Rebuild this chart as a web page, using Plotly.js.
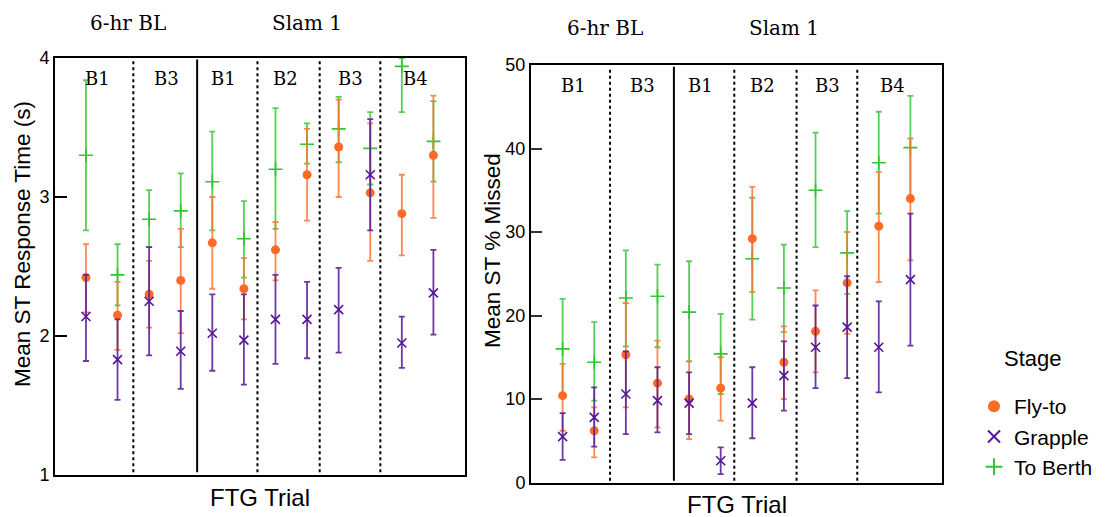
<!DOCTYPE html>
<html>
<head>
<meta charset="utf-8">
<script src="https://cdn.plot.ly/plotly-3.0.1.min.js"></script>
<style>
  html, body { margin: 0; padding: 0; background: #fff; }
  #chart { width: 1112px; height: 517px; }
</style>
</head>
<body>
<div id="chart"></div>
<script>
// Trial slots along the x axis (three stages share each slot)
const trialPos = [1, 2, 3, 4, 5, 6, 7, 8, 9, 10, 11, 12];

// Block labels and where they sit
const blockLabels = ["B1", "B3", "B1", "B2", "B3", "B4"];
const blockLabelPos = [1.35, 3.54, 5.37, 7.33, 9.37, 11.43];
const sessionLabels = ["6-hr BL", "Slam 1"];
const sessionLabelPos = [2.33, 8.0];
// Block separators: dotted inside a session, solid between sessions
const dividerPos = [2.5, 4.52, 6.43, 8.4, 10.32];
const dividerSolid = [false, true, false, false, false];

// Mean ST response time (s) with upper / lower interval bounds
const flyToRT    = [2.42, 2.15, 2.30, 2.40, 2.67, 2.34, 2.62, 3.16, 3.36, 3.03, 2.88, 3.30];
const flyToRTHi  = [2.66, 2.39, 2.54, 2.77, 3.00, 2.56, 2.82, 3.49, 3.70, 3.53, 3.16, 3.73];
const flyToRTLo  = [2.17, 1.90, 2.06, 2.02, 2.34, 2.12, 2.40, 2.83, 3.00, 2.54, 2.58, 2.85];
const grappleRT   = [2.14, 1.83, 2.25, 1.89, 2.02, 1.97, 2.12, 2.12, 2.19, 3.16, 1.95, 2.31];
const grappleRTHi = [2.44, 2.12, 2.64, 2.18, 2.30, 2.30, 2.44, 2.39, 2.49, 3.56, 2.14, 2.62];
const grappleRTLo = [1.82, 1.54, 1.86, 1.62, 1.75, 1.65, 1.80, 1.84, 1.88, 2.76, 1.77, 2.01];
const berthRT   = [3.30, 2.44, 2.84, 2.90, 3.11, 2.70, 3.20, 3.38, 3.49, 3.35, 3.94, 3.40];
const berthRTHi = [3.84, 2.66, 3.05, 3.17, 3.47, 2.97, 3.64, 3.53, 3.72, 3.61, 4.00, 3.69];
const berthRTLo = [2.76, 2.22, 2.64, 2.64, 2.76, 2.42, 2.77, 3.24, 3.25, 3.09, 3.61, 3.11];

// Mean ST % missed with upper / lower interval bounds
const flyToPM    = [10.4, 6.2, 15.3, 11.9, 10.0, 11.3, 29.2, 14.4, 18.1, 23.9, 30.7, 34.0];
const flyToPMHi  = [14.2, 9.0, 21.5, 17.0, 14.5, 15.0, 35.4, 18.7, 23.0, 30.0, 37.2, 41.2];
const flyToPMLo  = [6.2, 3.0, 9.0, 6.6, 5.2, 7.4, 22.8, 10.0, 13.2, 17.8, 24.0, 26.6];
const grapplePM   = [5.5, 7.8, 10.6, 9.8, 9.5, 2.6, 9.5, 12.8, 16.2, 18.6, 16.2, 24.3];
const grapplePMHi = [8.3, 11.4, 15.7, 13.8, 13.2, 4.2, 13.8, 16.9, 21.2, 24.7, 21.7, 32.2];
const grapplePMLo = [2.7, 4.3, 5.8, 6.0, 5.8, 1.0, 5.3, 8.6, 11.3, 12.5, 10.8, 16.4];
const berthPM   = [16.0, 14.4, 22.1, 22.3, 20.4, 15.4, 26.8, 23.3, 35.0, 27.5, 38.3, 40.1];
const berthPMHi = [22.0, 19.2, 27.8, 26.1, 26.5, 20.2, 34.1, 28.5, 41.9, 32.5, 44.4, 46.3];
const berthPMLo = [10.3, 9.8, 16.3, 16.2, 14.5, 10.6, 19.5, 18.0, 28.2, 22.6, 32.2, 34.0];

const stageNames = ["Fly-to", "Grapple", "To Berth"];

const COL = {
  fly:   { mark: "#ff6a26", bar: "rgba(255,115,50,0.85)" },
  grap:  { mark: "#55159a", bar: "rgba(88,28,150,0.88)" },
  berth: { mark: "#2fc62f", bar: "rgba(55,200,55,0.85)" }
};

const up = (hi, m) => hi.map((v, i) => +(v - m[i]).toFixed(3));
const dn = (lo, m) => m.map((v, i) => +(v - lo[i]).toFixed(3));

function stageTrace(name, y, hi, lo, col, marker, xa, ya, show, rank) {
  return {
    type: "scatter", mode: "markers", name: name,
    x: trialPos, y: y, xaxis: xa, yaxis: ya,
    showlegend: show, legendrank: rank,
    marker: Object.assign({ color: col.mark }, marker),
    error_y: {
      type: "data", symmetric: false,
      array: up(hi, y), arrayminus: dn(lo, y),
      color: col.bar, thickness: 1.8, width: 3
    },
    hoverinfo: "x+y+name"
  };
}

const mkFly   = { symbol: "circle", size: 9 };
const mkGrap  = { symbol: "x-thin", size: 9, line: { color: COL.grap.mark, width: 1.6 } };
const mkBerth = { symbol: "cross-thin", size: 10, line: { color: COL.berth.mark, width: 1.6 } };

const traces = [
  stageTrace(stageNames[2], berthRT, berthRTHi, berthRTLo, COL.berth, mkBerth, "x", "y", true, 3),
  stageTrace(stageNames[0], flyToRT, flyToRTHi, flyToRTLo, COL.fly, mkFly, "x", "y", true, 1),
  stageTrace(stageNames[1], grappleRT, grappleRTHi, grappleRTLo, COL.grap, mkGrap, "x", "y", true, 2),
  stageTrace(stageNames[2], berthPM, berthPMHi, berthPMLo, COL.berth, mkBerth, "x2", "y2", false, 3),
  stageTrace(stageNames[0], flyToPM, flyToPMHi, flyToPMLo, COL.fly, mkFly, "x2", "y2", false, 1),
  stageTrace(stageNames[1], grapplePM, grapplePMHi, grapplePMLo, COL.grap, mkGrap, "x2", "y2", false, 2)
];

const W = 1112, H = 517;
const px = v => v / W;
const py = v => 1 - v / H;

const frame = {
  showline: true, linecolor: "#000", linewidth: 2, mirror: true,
  showgrid: false, zeroline: false
};
const xAxisBase = Object.assign({}, frame, { range: [0.02, 13.0], showticklabels: false, ticks: "" });
const yTickFont = { family: "Liberation Sans, Arial, sans-serif", size: 18, color: "#000" };

const layout = {
  width: W, height: H,
  margin: { l: 0, r: 0, t: 0, b: 0 },
  paper_bgcolor: "#fff", plot_bgcolor: "#fff",
  showlegend: true,
  legend: {
    x: px(974), y: py(386), xanchor: "left", yanchor: "top",
    font: { family: "Liberation Sans, Arial, sans-serif", size: 21, color: "#000" },
    tracegroupgap: 0, itemsizing: "constant", bgcolor: "rgba(0,0,0,0)"
  },
  xaxis: Object.assign({}, xAxisBase, { domain: [px(55), px(465)], anchor: "y" }),
  yaxis: Object.assign({}, frame, {
    domain: [py(475), py(58)], anchor: "x", range: [1, 4],
    tickvals: [1, 2, 3, 4], ticks: "inside", ticklen: 12, tickwidth: 2, tickcolor: "#000",
    tickfont: yTickFont
  }),
  xaxis2: Object.assign({}, xAxisBase, { domain: [px(531), px(942)], anchor: "y2", range: [0.0, 13.0] }),
  yaxis2: Object.assign({}, frame, {
    domain: [py(482.5), py(65)], anchor: "x2", range: [0, 50],
    tickvals: [0, 10, 20, 30, 40, 50], ticks: "inside", ticklen: 11, tickwidth: 2, tickcolor: "#333",
    tickfont: yTickFont
  }),
  shapes: [],
  annotations: []
};

// Block separators and labels in both panels
[["x", "y", [1.02, 3.99]], ["x2", "y2", [0.2, 49.8]]].forEach(([xa, ya, yr]) => {
  dividerPos.forEach((d, i) => {
    layout.shapes.push({
      type: "line", xref: xa, yref: ya, x0: d, x1: d, y0: yr[0], y1: yr[1],
      line: { color: "#000", width: 2, dash: dividerSolid[i] ? "solid" : "dot" }
    });
  });
});

const serif = "DejaVu Serif, serif";
const sans = "Liberation Sans, Arial, sans-serif";
[["x", 78], ["x2", 85]].forEach(([xa, ypix]) => {
  blockLabels.forEach((t, i) => {
    layout.annotations.push({
      xref: xa, yref: "paper", x: blockLabelPos[i], y: py(ypix), text: t,
      showarrow: false, xanchor: "center", yanchor: "middle",
      font: { family: serif, size: 18, color: "#000" }
    });
  });
});
[["x", 23], ["x2", 28]].forEach(([xa, ypix]) => {
  sessionLabels.forEach((t, i) => {
    layout.annotations.push({
      xref: xa, yref: "paper", x: sessionLabelPos[i], y: py(ypix), text: t,
      showarrow: false, xanchor: "center", yanchor: "middle",
      font: { family: serif, size: 20, color: "#000" }
    });
  });
});

// Axis titles
layout.annotations.push(
  { xref: "paper", yref: "paper", x: px(22), y: py(244), text: "Mean ST Response Time (s)",
    textangle: -90, showarrow: false, xanchor: "center", yanchor: "middle",
    font: { family: sans, size: 22.5, color: "#000" } },
  { xref: "paper", yref: "paper", x: px(492), y: py(251), text: "Mean ST % Missed",
    textangle: -90, showarrow: false, xanchor: "center", yanchor: "middle",
    font: { family: sans, size: 22.5, color: "#000" } },
  { xref: "paper", yref: "paper", x: px(260), y: py(497), text: "FTG Trial",
    showarrow: false, xanchor: "center", yanchor: "middle",
    font: { family: sans, size: 24, color: "#000" } },
  { xref: "paper", yref: "paper", x: px(737), y: py(504), text: "FTG Trial",
    showarrow: false, xanchor: "center", yanchor: "middle",
    font: { family: sans, size: 24, color: "#000" } },
  { xref: "paper", yref: "paper", x: px(1002), y: py(358), text: "Stage",
    showarrow: false, xanchor: "left", yanchor: "middle",
    font: { family: sans, size: 22, color: "#000" } }
);

Plotly.newPlot("chart", traces, layout, { staticPlot: true, displayModeBar: false });
</script>
</body>
</html>
